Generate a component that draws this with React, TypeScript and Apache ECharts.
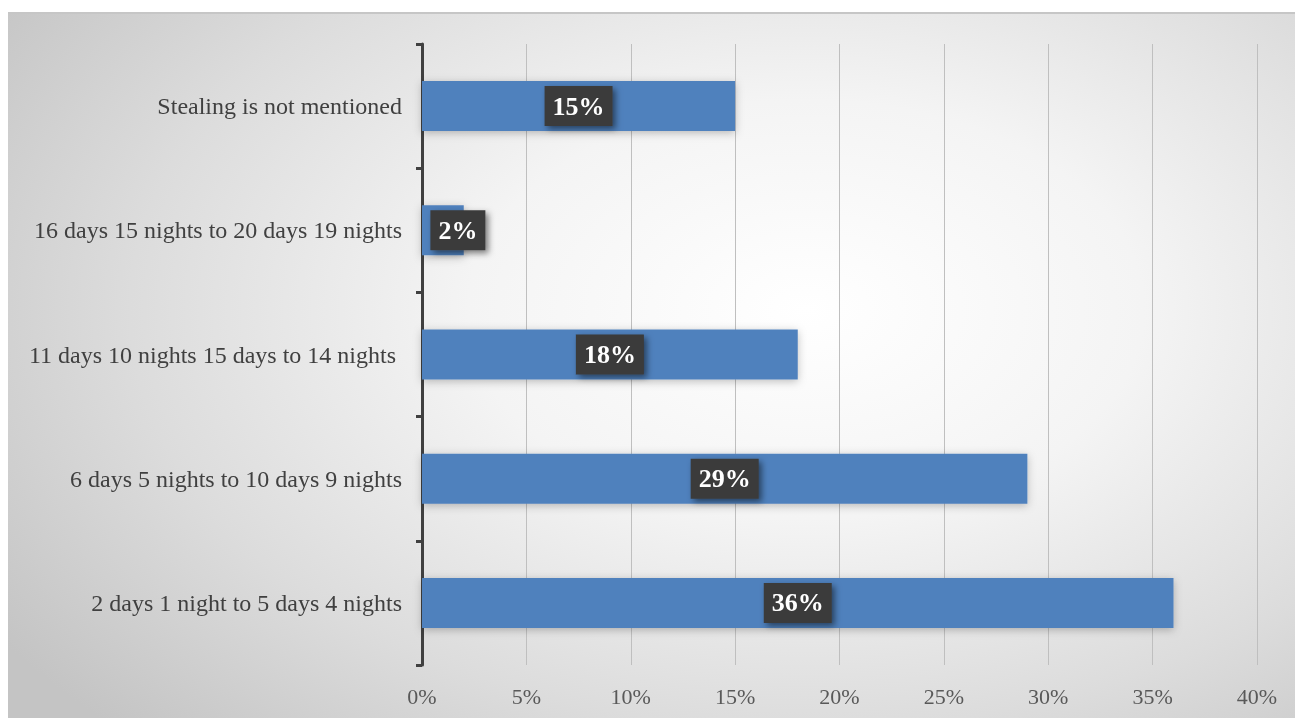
import React, { useEffect, useRef } from "react";
import * as echarts from "echarts";

const categories = [
  "2 days 1 night to 5 days 4 nights",
  "6 days 5 nights to 10 days 9 nights",
  "11 days 10 nights 15 days to 14 nights ",
  "16 days 15 nights to 20 days 19 nights",
  "Stealing is not mentioned",
];
const values = [36, 29, 18, 2, 15];
const xTicks = [0, 5, 10, 15, 20, 25, 30, 35, 40];

const FONT = "Liberation Serif, serif";

export default function App() {
  const ref = useRef<HTMLDivElement>(null);
  useEffect(() => {
    if (!ref.current) return;
    const chart = echarts.init(ref.current, undefined, { renderer: "svg" });
    chart.setOption({
      animation: false,
      backgroundColor: "transparent",
      textStyle: { fontFamily: FONT },
      grid: { left: 414, right: 38, top: 30, bottom: 53, containLabel: false },
      xAxis: {
        type: "value",
        min: xTicks[0],
        max: xTicks[xTicks.length - 1],
        interval: 5,
        axisLine: { show: false },
        axisTick: { show: false },
        axisLabel: {
          formatter: (v: number) => v + "%",
          fontFamily: FONT,
          fontSize: 22,
          color: "#595959",
          margin: 20,
        },
        splitLine: { show: true, lineStyle: { color: "#bfbfbf", width: 1 } },
      },
      yAxis: {
        type: "category",
        data: categories,
        axisLine: { show: true, lineStyle: { color: "#404040", width: 3 } },
        axisTick: { show: true, length: 6, lineStyle: { color: "#404040", width: 3 } },
        axisLabel: {
          fontFamily: FONT,
          fontSize: 24,
          color: "#404040",
          margin: 20,
        },
      },
      series: [
        {
          type: "bar",
          barWidth: 50,
          data: values.map((v) => ({
            value: v,
            label: v < 5 ? { offset: [15, 0] } : undefined,
          })),
          itemStyle: {
            color: "#4f81bd",
            shadowColor: "rgba(0,0,0,0.25)",
            shadowBlur: 8,
            shadowOffsetY: 2,
          },
          label: {
            show: true,
            position: "inside",
            formatter: (p: any) => p.value + "%",
            fontFamily: FONT,
            fontSize: 26,
            fontWeight: "bold",
            color: "#ffffff",
            backgroundColor: "#3a3a3a",
            padding: [8, 8, 6, 8],
            shadowColor: "rgba(0,0,0,0.5)",
            shadowBlur: 6,
            shadowOffsetX: 3,
            shadowOffsetY: 3,
          },
        },
      ],
    });
    return () => chart.dispose();
  }, []);
  return (
    <div
      style={{
        position: "fixed",
        left: 8,
        top: 12,
        width: 1287,
        height: 706,
        borderTop: "2px solid #c6c6c6",
        boxSizing: "border-box",
        background:
          "radial-gradient(ellipse 75% 85% at 62% 42%, #ffffff 0%, #f4f4f4 35%, #dcdcdc 70%, #c4c4c4 100%)",
      }}
    >
      <div ref={ref} style={{ width: 1287, height: 704 }} />
    </div>
  );
}
